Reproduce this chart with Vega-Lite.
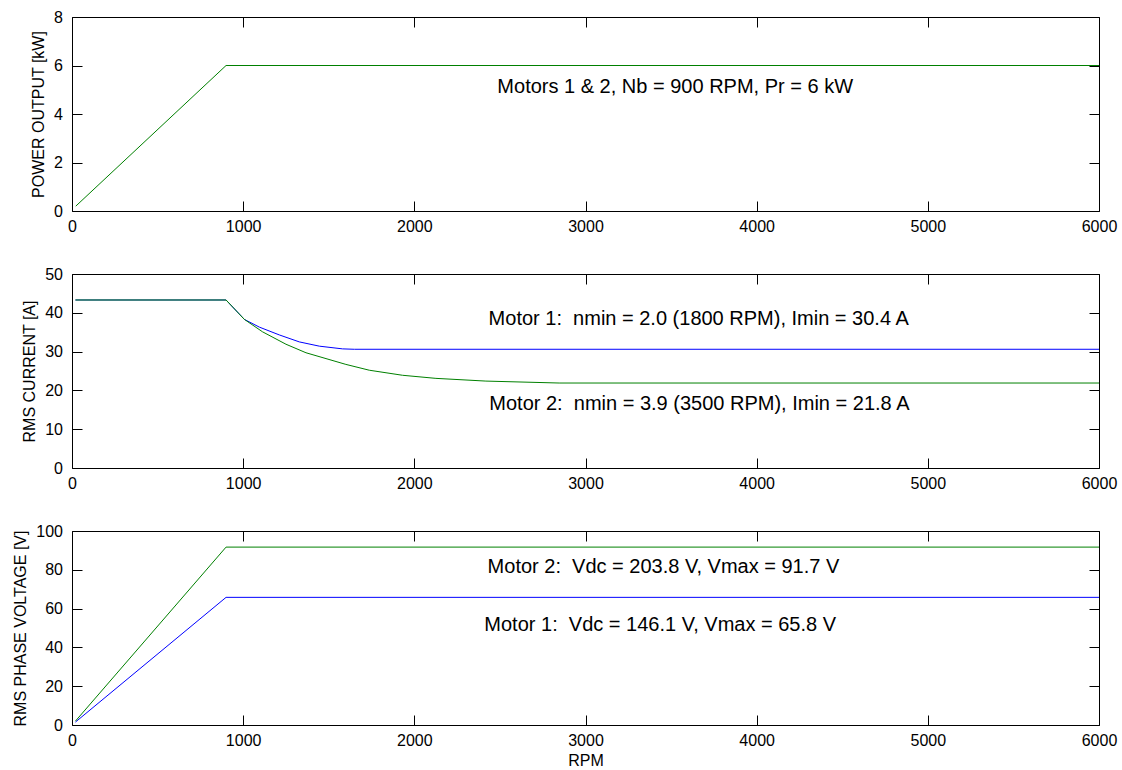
{
  "$schema": "https://vega.github.io/schema/vega-lite/v6.json",
  "padding": {"left": 12, "top": 9, "right": 5, "bottom": 5},
  "background": "#ffffff",
  "config": {
    "view": {"stroke": null},
    "font": "Liberation Sans",
    "axis": {
      "grid": false,
      "domainColor": "#000000",
      "domainWidth": 1,
      "tickColor": "#000000",
      "tickWidth": 1,
      "tickSize": -10,
      "labelColor": "#000000",
      "titleColor": "#000000",
      "labelFont": "Liberation Sans",
      "titleFont": "Liberation Sans",
      "labelFontSize": 16,
      "titleFontSize": 16,
      "titleFontWeight": "normal",
      "labelFlush": false,
      "labelOverlap": false,
      "format": "d"
    },
    "axisX": {"labelPadding": 17.5, "titlePadding": 4},
    "axisY": {"labelPadding": 19.5, "titlePadding": 7}
  },
  "datasets": {
    "power": [
      {"rpm": 22, "kw": 0.2},
      {"rpm": 900, "kw": 6.0},
      {"rpm": 6000, "kw": 6.0}
    ],
    "current": [
      {"motor": "Motor 1", "rpm": 20, "amps": 43.3},
      {"motor": "Motor 1", "rpm": 900, "amps": 43.3},
      {"motor": "Motor 1", "rpm": 1007, "amps": 38.3},
      {"motor": "Motor 1", "rpm": 1095, "amps": 36.3},
      {"motor": "Motor 1", "rpm": 1211, "amps": 34.3},
      {"motor": "Motor 1", "rpm": 1328, "amps": 32.5},
      {"motor": "Motor 1", "rpm": 1445, "amps": 31.4},
      {"motor": "Motor 1", "rpm": 1581, "amps": 30.7},
      {"motor": "Motor 1", "rpm": 1650, "amps": 30.6},
      {"motor": "Motor 1", "rpm": 6000, "amps": 30.6},
      {"motor": "Motor 2", "rpm": 20, "amps": 43.3},
      {"motor": "Motor 2", "rpm": 900, "amps": 43.3},
      {"motor": "Motor 2", "rpm": 1007, "amps": 38.3},
      {"motor": "Motor 2", "rpm": 1113, "amps": 35.1},
      {"motor": "Motor 2", "rpm": 1250, "amps": 31.9},
      {"motor": "Motor 2", "rpm": 1367, "amps": 29.7},
      {"motor": "Motor 2", "rpm": 1600, "amps": 26.7},
      {"motor": "Motor 2", "rpm": 1737, "amps": 25.2},
      {"motor": "Motor 2", "rpm": 1931, "amps": 23.9},
      {"motor": "Motor 2", "rpm": 2126, "amps": 23.1},
      {"motor": "Motor 2", "rpm": 2418, "amps": 22.4},
      {"motor": "Motor 2", "rpm": 2846, "amps": 21.9},
      {"motor": "Motor 2", "rpm": 6000, "amps": 21.9}
    ],
    "voltage": [
      {"motor": "Motor 1", "rpm": 20, "volts": 1.5},
      {"motor": "Motor 1", "rpm": 900, "volts": 65.8},
      {"motor": "Motor 1", "rpm": 6000, "volts": 65.8},
      {"motor": "Motor 2", "rpm": 20, "volts": 2.0},
      {"motor": "Motor 2", "rpm": 900, "volts": 91.7},
      {"motor": "Motor 2", "rpm": 6000, "volts": 91.7}
    ],
    "notes1": [
      {"rpm": 2485, "val": 5.13, "label": "Motors 1 & 2, Nb = 900 RPM, Pr = 6 kW"}
    ],
    "notes2": [
      {"rpm": 2434, "val": 38.3, "label": "Motor 1: \u00a0nmin = 2.0 (1800 RPM), Imin = 30.4 A"},
      {"rpm": 2438, "val": 16.4, "label": "Motor 2: \u00a0nmin = 3.9 (3500 RPM), Imin = 21.8 A"}
    ],
    "notes3": [
      {"rpm": 2428, "val": 81.5, "label": "Motor 2: \u00a0Vdc = 203.8 V, Vmax = 91.7 V"},
      {"rpm": 2409, "val": 51.7, "label": "Motor 1: \u00a0Vdc = 146.1 V, Vmax = 65.8 V"}
    ]
  },
  "bounds": "flush",
  "spacing": 63,
  "vconcat": [
    {
      "width": 1027,
      "height": 194,
      "layer": [
        {
          "data": {"name": "power"},
          "mark": {"type": "line", "color": "#008000", "strokeWidth": 1},
          "encoding": {
            "x": {"field": "rpm", "type": "quantitative",
                  "scale": {"domain": [0, 6000], "nice": false},
                  "axis": {"orient": "bottom", "title": null, "values": [0, 1000, 2000, 3000, 4000, 5000, 6000]}},
            "y": {"field": "kw", "type": "quantitative",
                  "scale": {"domain": [0, 8], "nice": false},
                  "axis": {"orient": "left", "title": "POWER OUTPUT [kW]", "values": [0, 2, 4, 6, 8]}}
          }
        },
        {
          "data": {"name": "notes1"},
          "mark": {"type": "text", "align": "left", "baseline": "middle", "fontSize": 20, "font": "Liberation Sans", "color": "#000000"},
          "encoding": {
            "x": {"field": "rpm", "type": "quantitative",
                  "axis": {"orient": "top", "title": null, "labels": false, "values": [0, 1000, 2000, 3000, 4000, 5000, 6000]}},
            "y": {"field": "val", "type": "quantitative",
                  "axis": {"orient": "right", "title": null, "labels": false, "values": [0, 2, 4, 6, 8]}},
            "text": {"field": "label"}
          }
        }
      ],
      "resolve": {"axis": {"x": "independent", "y": "independent"}}
    },
    {
      "width": 1027,
      "height": 194,
      "layer": [
        {
          "data": {"name": "current"},
          "mark": {"type": "line", "strokeWidth": 1},
          "encoding": {
            "x": {"field": "rpm", "type": "quantitative",
                  "scale": {"domain": [0, 6000], "nice": false},
                  "axis": {"orient": "bottom", "title": null, "values": [0, 1000, 2000, 3000, 4000, 5000, 6000]}},
            "y": {"field": "amps", "type": "quantitative",
                  "scale": {"domain": [0, 50], "nice": false},
                  "axis": {"orient": "left", "title": "RMS CURRENT [A]", "values": [0, 10, 20, 30, 40, 50]}},
            "color": {"field": "motor", "type": "nominal",
                      "scale": {"domain": ["Motor 1", "Motor 2"], "range": ["#0000ff", "#008000"]},
                      "legend": null}
          }
        },
        {
          "data": {"name": "notes2"},
          "mark": {"type": "text", "align": "left", "baseline": "middle", "fontSize": 20, "font": "Liberation Sans", "color": "#000000"},
          "encoding": {
            "x": {"field": "rpm", "type": "quantitative",
                  "axis": {"orient": "top", "title": null, "labels": false, "values": [0, 1000, 2000, 3000, 4000, 5000, 6000]}},
            "y": {"field": "val", "type": "quantitative",
                  "axis": {"orient": "right", "title": null, "labels": false, "values": [0, 10, 20, 30, 40, 50]}},
            "text": {"field": "label"}
          }
        }
      ],
      "resolve": {"axis": {"x": "independent", "y": "independent"}}
    },
    {
      "width": 1027,
      "height": 194,
      "layer": [
        {
          "data": {"name": "voltage"},
          "mark": {"type": "line", "strokeWidth": 1},
          "encoding": {
            "x": {"field": "rpm", "type": "quantitative",
                  "scale": {"domain": [0, 6000], "nice": false},
                  "axis": {"orient": "bottom", "title": "RPM", "values": [0, 1000, 2000, 3000, 4000, 5000, 6000]}},
            "y": {"field": "volts", "type": "quantitative",
                  "scale": {"domain": [0, 100], "nice": false},
                  "axis": {"orient": "left", "title": "RMS PHASE VOLTAGE [V]", "values": [0, 20, 40, 60, 80, 100]}},
            "color": {"field": "motor", "type": "nominal",
                      "scale": {"domain": ["Motor 1", "Motor 2"], "range": ["#0000ff", "#008000"]},
                      "legend": null}
          }
        },
        {
          "data": {"name": "notes3"},
          "mark": {"type": "text", "align": "left", "baseline": "middle", "fontSize": 20, "font": "Liberation Sans", "color": "#000000"},
          "encoding": {
            "x": {"field": "rpm", "type": "quantitative",
                  "axis": {"orient": "top", "title": null, "labels": false, "values": [0, 1000, 2000, 3000, 4000, 5000, 6000]}},
            "y": {"field": "val", "type": "quantitative",
                  "axis": {"orient": "right", "title": null, "labels": false, "values": [0, 20, 40, 60, 80, 100]}},
            "text": {"field": "label"}
          }
        }
      ],
      "resolve": {"axis": {"x": "independent", "y": "independent"}}
    }
  ]
}
